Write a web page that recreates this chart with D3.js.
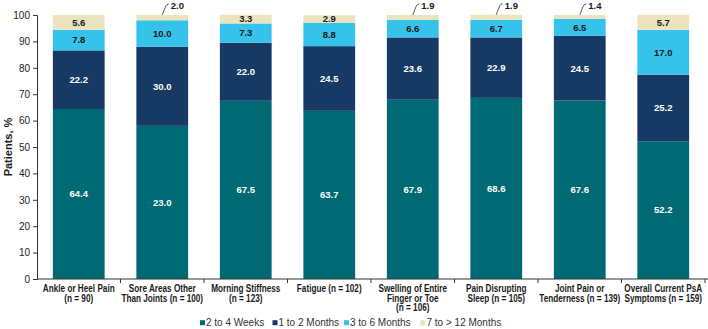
<!DOCTYPE html>
<html>
<head>
<meta charset="utf-8">
<script src="https://cdn.jsdelivr.net/npm/d3@7"></script>
<style>
  body { margin: 0; background: #fff; }
  svg { font-family: "Liberation Sans", Arial, sans-serif; }
</style>
</head>
<body>
<div id="chart"></div>
<script>
// Dados do gráfico
const categories = [
  ['Ankle or Heel Pain', '(n = 90)'],
  ['Sore Areas Other', 'Than Joints (n = 100)'],
  ['Morning Stiffness', '(n = 123)'],
  ['Fatigue (n = 102)'],
  ['Swelling of Entire', 'Finger or Toe', '(n = 106)'],
  ['Pain Disrupting', 'Sleep (n = 105)'],
  ['Joint Pain or', 'Tenderness (n = 139)'],
  ['Overall Current PsA', 'Symptoms (n = 159)']
];
const seriesNames = ['2 to 4 Weeks', '1 to 2 Months', '3 to 6 Months', '7 to > 12 Months'];
const weeks2to4 = [64.4, 58.0, 67.5, 63.7, 67.9, 68.6, 67.6, 52.2];
const months1to2 = [22.2, 30.0, 22.0, 24.5, 23.6, 22.9, 24.5, 25.2];
const months3to6 = [7.8, 10.0, 7.3, 8.8, 6.6, 6.7, 6.5, 17.0];
const months7to12 = [5.6, 2.0, 3.3, 2.9, 1.9, 1.9, 1.4, 5.7];
// rótulo impresso no original (difere do valor da barra)
const printedLabels = { '0-1': '23.0' };
const yTicks = [0, 10, 20, 30, 40, 50, 60, 70, 80, 90, 100];

const colors = ['#006a74', '#163a63', '#35c3eb', '#ebe3bd'];
const labelColors = ['#ffffff', '#ffffff', '#1a1a1a', '#1a1a1a'];

const W = 708, H = 329;
const svg = d3.select('#chart').append('svg')
  .attr('width', W).attr('height', H);

const x = d3.scaleBand()
  .domain(d3.range(categories.length))
  .range([37, 705])
  .paddingInner(0.38)
  .paddingOuter(0.19);

const y = d3.scaleLinear().domain([0, 100]).range([279, 15]);

// Empilhar
const rows = categories.map((c, i) => ({
  i, s0: weeks2to4[i], s1: months1to2[i], s2: months3to6[i], s3: months7to12[i]
}));
const stack = d3.stack().keys(['s0', 's1', 's2', 's3'])(rows);

// Barras
stack.forEach((layer, k) => {
  svg.append('g').selectAll('rect')
    .data(layer)
    .enter().append('rect')
    .attr('x', d => x(d.data.i))
    .attr('width', x.bandwidth())
    .attr('y', d => y(d[1]))
    .attr('height', d => y(d[0]) - y(d[1]))
    .attr('fill', colors[k]);
});

// Rótulos
stack.forEach((layer, k) => {
  layer.forEach(d => {
    const i = d.data.i;
    const v = d[1] - d[0];
    const txt = printedLabels[`${k}-${i}`] || v.toFixed(1);
    const cx = x(i) + x.bandwidth() / 2;
    if (v < 2.5) {
      const top = y(d[1]);
      svg.append('path')
        .attr('d', `M${cx},${top} L${cx + 3.5},${top - 9} Q${cx + 4.5},${top - 11} ${cx + 6.5},${top - 11}`)
        .attr('fill', 'none')
        .attr('stroke', '#333')
        .attr('stroke-width', 0.8);
      svg.append('text')
        .attr('x', cx + 8.5)
        .attr('y', top - 9)
        .attr('dy', '0.35em')
        .attr('fill', '#1a1a1a')
        .style('font-size', '9.5px')
        .style('font-weight', 'bold')
        .text(txt);
    } else {
      svg.append('text')
        .attr('x', cx)
        .attr('y', y((d[0] + d[1]) / 2))
        .attr('dy', '0.35em')
        .attr('text-anchor', 'middle')
        .attr('fill', labelColors[k])
        .style('font-size', '9.5px')
        .style('font-weight', 'bold')
        .text(txt);
    }
  });
});

// Eixo Y
const yAxis = svg.append('g')
  .attr('transform', 'translate(37,0)')
  .call(d3.axisLeft(y).tickValues(yTicks).tickSize(4).tickPadding(3));
yAxis.select('.domain').attr('stroke', '#333');
yAxis.selectAll('.tick line').attr('stroke', '#333');
yAxis.selectAll('.tick text').attr('fill', '#222').style('font-size', '10px');

svg.append('text')
  .attr('transform', 'translate(8,147) rotate(-90)')
  .attr('text-anchor', 'middle')
  .attr('dy', '0.35em')
  .attr('fill', '#1a1a1a')
  .style('font-size', '11px')
  .style('font-weight', 'bold')
  .text('Patients, %');

// Eixo X
svg.append('line')
  .attr('x1', 37).attr('x2', 708)
  .attr('y1', y(0)).attr('y2', y(0))
  .attr('stroke', '#333');
const step = x.step();
const x0 = x(0) - x.paddingOuter() * step - (x.paddingInner() * step) / 2;
d3.range(1, categories.length + 1).forEach(j => {
  const tx = x0 + j * step + (x.paddingInner() * step) / 2;
  svg.append('line')
    .attr('x1', tx).attr('x2', tx)
    .attr('y1', y(0)).attr('y2', y(0) + 4)
    .attr('stroke', '#333');
});

// Rótulos das categorias (fonte estreitada horizontalmente)
categories.forEach((lines, i) => {
  const t = svg.append('text')
    .attr('transform', `translate(${x(i) + x.bandwidth() / 2},0) scale(0.82,1)`)
    .attr('text-anchor', 'middle')
    .attr('fill', '#1a1a1a')
    .style('font-size', '10px')
    .style('font-weight', 'bold');
  lines.forEach((ln, j) => {
    t.append('tspan')
      .attr('x', 0)
      .attr('y', 288.5 + j * 9.7)
      .attr('dy', '0.35em')
      .text(ln);
  });
});

// Legenda
const legendX = [200, 272.5, 344, 420.5];
seriesNames.forEach((name, k) => {
  const g = svg.append('g').attr('transform', `translate(${legendX[k]},322.7)`);
  g.append('rect')
    .attr('x', 0).attr('y', -2.5)
    .attr('width', 5).attr('height', 5)
    .attr('fill', colors[k]);
  g.append('text')
    .attr('x', 6).attr('y', 0)
    .attr('dy', '0.35em')
    .attr('fill', '#333')
    .style('font-size', '10px')
    .text(name);
});
</script>
</body>
</html>
